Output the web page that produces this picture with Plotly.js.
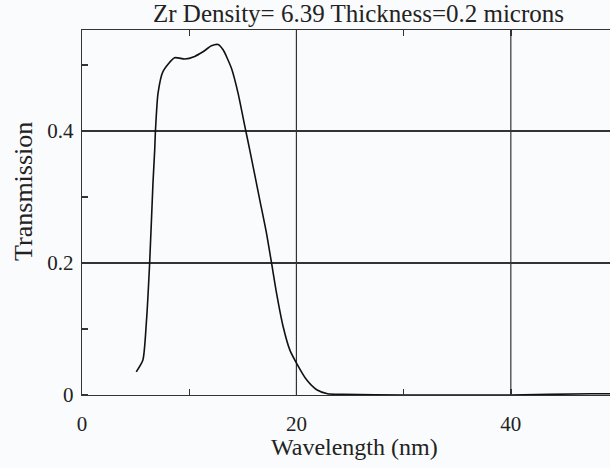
<!DOCTYPE html>
<html>
<head>
<meta charset="utf-8">
<script src="https://cdn.plot.ly/plotly-3.0.1.min.js"></script>
<style>html,body{margin:0;padding:0;background:#fafbfc;}#chart{width:610px;height:468px;}</style>
</head>
<body>
<div id="chart"></div>
<script>
// Wavelength (nm)
var wavelength = [5.06, 5.68, 6.0, 6.31, 6.62, 6.78, 6.85, 7.09, 7.55, 8.64, 9.58, 10.51, 11.29, 12.07, 12.69, 13.16, 13.94, 14.56, 15.19, 15.65, 16.59, 17.21, 17.68, 18.15, 18.77, 19.39, 20.02, 20.95, 21.89, 22.9, 24.3, 30, 40, 47.5, 49.3];
// Transmission
var transmission = [0.035, 0.053, 0.109, 0.2, 0.321, 0.371, 0.4, 0.457, 0.49, 0.511, 0.509, 0.513, 0.52, 0.529, 0.531, 0.523, 0.495, 0.457, 0.407, 0.371, 0.295, 0.245, 0.2, 0.154, 0.103, 0.068, 0.048, 0.023, 0.008, 0.002, 0.001, 0.0, 0.0, 0.002, 0.002];

var chartTitle = "Zr Density= 6.39 Thickness=0.2 microns";
var xTitle = "Wavelength (nm)";
var yTitle = "Transmission";
var xTickVals = [0, 10, 20, 30, 40];
var xTickText = ["0", "", "20", "", "40"];
var xGridVals = [20, 40];
var yTickVals = [0, 0.2, 0.4];

var serif = "Times New Roman";
var ink = '#222';
var axisInk = '#333';
var xr = [0, 49.25], yr = [0, 0.553];

var trace = {
  x: wavelength, y: transmission, type: 'scatter', mode: 'lines',
  line: {color: '#111', width: 1.6, shape: 'spline', smoothing: 0.6},
  hoverinfo: 'skip'
};

var gridShapes = xGridVals.map(function (v) {
  return {type: 'line', xref: 'x', yref: 'paper', x0: v, x1: v, y0: 0, y1: 1, layer: 'below',
          line: {color: axisInk, width: 1.2}};
});

var layout = {
  width: 610, height: 468,
  paper_bgcolor: '#fafbfc', plot_bgcolor: '#fafbfc',
  margin: {l: 82, r: 0, t: 30, b: 73},
  showlegend: false,
  font: {family: serif, color: ink, size: 21},
  xaxis: {
    range: xr, tickmode: 'array', tickvals: xTickVals, ticktext: xTickText,
    ticks: 'inside', ticklen: 6, tickwidth: 1.4, tickcolor: axisInk, showgrid: false,
    zeroline: false, showline: true, linecolor: axisInk, linewidth: 1.3, mirror: 'allticks',
    tickfont: {family: serif, size: 21, color: ink}, ticklabelstandoff: 9
  },
  yaxis: {
    range: yr, tickvals: yTickVals, ticks: '', showgrid: true, gridcolor: axisInk, gridwidth: 1.2,
    zeroline: false, showline: true, linecolor: axisInk, linewidth: 1.3, mirror: false,
    minor: {tick0: 0, dtick: 0.1, ticks: 'inside', ticklen: 6, tickcolor: axisInk, tickwidth: 1.4, showgrid: false},
    tickfont: {family: serif, size: 21, color: ink}, ticklabelstandoff: 3
  },
  shapes: gridShapes,
  annotations: [
    {text: chartTitle, xref: 'paper', yref: 'paper', x: 0.5246, y: 1.044, xanchor: 'center', yanchor: 'middle',
     showarrow: false, font: {family: serif, size: 25, color: ink}},
    {text: xTitle, xref: 'paper', yref: 'paper', x: 0.517, y: -0.142, xanchor: 'center', yanchor: 'middle',
     showarrow: false, font: {family: serif, size: 24, color: ink}},
    {text: yTitle, xref: 'paper', yref: 'paper', x: -0.11, y: 0.559, xanchor: 'center', yanchor: 'middle',
     textangle: -90, showarrow: false, font: {family: serif, size: 26, color: ink}}
  ]
};

Plotly.newPlot('chart', [trace], layout, {staticPlot: true, displayModeBar: false});
</script>
</body>
</html>
